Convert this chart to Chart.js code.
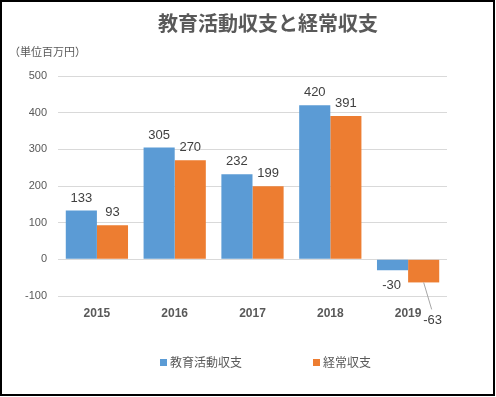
<!DOCTYPE html>
<html><head><meta charset="utf-8">
<script src="https://cdn.jsdelivr.net/npm/chart.js@4"></script>
<style>html,body{margin:0;padding:0;background:#fff;}#wrap{width:496px;height:397px;}</style>
</head><body><div id="wrap"><canvas id="c" width="496" height="397"></canvas></div>
<script>
const years = ['2015','2016','2017','2018','2019'];
const educationBalance = [133, 305, 232, 420, -30];
const ordinaryBalance = [93, 270, 199, 391, -63];
const seriesNames = ['教育活動収支', '経常収支'];
const yTicks = [-100, 0, 100, 200, 300, 400, 500];
const titleText = '教育活動収支と経常収支';
const unitText = '（単位百万円）';

const FONT = "'Liberation Sans','Noto Sans CJK JP',sans-serif";
const JFONT = "'Noto Sans CJK JP',sans-serif";
const GREY = '#595959';

const decor = {
  id: 'decor',
  afterDatasetsDraw(chart) {
    const ctx = chart.ctx;
    ctx.save();
    ctx.font = '13px ' + FONT;
    ctx.fillStyle = '#404040';
    ctx.textAlign = 'center';
    chart.data.datasets.forEach((ds, di) => {
      const meta = chart.getDatasetMeta(di);
      meta.data.forEach((bar, i) => {
        const v = ds.data[i];
        const txt = String(v);
        if (v >= 0) {
          ctx.textBaseline = 'bottom';
          ctx.fillText(txt, bar.x, bar.y - 6);
        } else {
          const lo = (ds.labelOffsets || {})[i];
          if (lo) {
            const lx = bar.x + lo[0], ly = bar.y + lo[1];
            ctx.strokeStyle = '#a6a6a6';
            ctx.lineWidth = 1;
            ctx.beginPath();
            ctx.moveTo(bar.x, bar.y);
            ctx.lineTo(lx - 1, ly - 11);
            ctx.stroke();
            ctx.textBaseline = 'middle';
            ctx.fillText(txt, lx, ly);
          } else {
            ctx.textBaseline = 'top';
            ctx.fillText(txt, bar.x - 1, bar.y + 9);
          }
        }
      });
    });
    ctx.restore();
  },
  afterDraw(chart) {
    const ctx = chart.ctx;
    ctx.save();
    ctx.fillStyle = GREY;
    ctx.font = 'bold 20px ' + JFONT;
    ctx.textAlign = 'center';
    ctx.textBaseline = 'middle';
    ctx.fillText(titleText, 268, 23);
    ctx.font = '11px ' + JFONT;
    ctx.textAlign = 'left';
    ctx.fillText(unitText, 9, 52);
    const items = [{x: 160}, {x: 313}];
    ctx.font = '12px ' + JFONT;
    chart.data.datasets.forEach((ds, i) => {
      const x = items[i].x;
      ctx.fillStyle = ds.backgroundColor;
      ctx.fillRect(x, 359, 7, 7);
      ctx.fillStyle = GREY;
      ctx.textBaseline = 'middle';
      ctx.fillText(ds.label, x + 10, 362);
    });
    ctx.strokeStyle = '#000';
    ctx.lineWidth = 2;
    ctx.strokeRect(1, 1, 493, 394);
    ctx.restore();
  }
};

new Chart(document.getElementById('c'), {
  type: 'bar',
  data: {
    labels: years,
    datasets: [
      { label: seriesNames[0], data: educationBalance, backgroundColor: '#5B9BD5' },
      { label: seriesNames[1], data: ordinaryBalance, backgroundColor: '#ED7D31', labelOffsets: {4: [9, 38]} }
    ]
  },
  options: {
    responsive: false,
    animation: false,
    devicePixelRatio: 1,
    layout: { padding: { top: 76, right: 49, left: 0, bottom: 0 } },
    datasets: { bar: { categoryPercentage: 0.8, barPercentage: 1.0 } },
    plugins: { legend: { display: false }, title: { display: false }, tooltip: { enabled: false } },
    scales: {
      x: {
        grid: { display: false, drawTicks: false },
        border: { display: false },
        ticks: { color: GREY, font: { family: FONT, size: 12, weight: 'bold' }, padding: 10 },
        afterFit(s) { s.height = 101; }
      },
      y: {
        min: -100, max: 500,
        afterBuildTicks(s) { s.ticks = yTicks.map(v => ({ value: v })); },
        grid: { color: '#d9d9d9', drawTicks: false, lineWidth: 1 },
        border: { display: false },
        ticks: { color: GREY, font: { family: FONT, size: 11 }, padding: 11 },
        afterFit(s) { s.width = 58; }
      }
    }
  },
  plugins: [decor]
});
</script></body></html>
